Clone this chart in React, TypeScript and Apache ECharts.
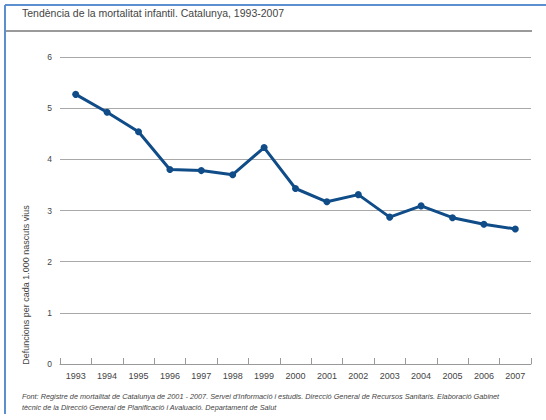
import React, { useEffect, useRef } from "react";
import * as echarts from "echarts";

const years = ["1993","1994","1995","1996","1997","1998","1999","2000","2001","2002","2003","2004","2005","2006","2007"];
const mortality = [5.27, 4.92, 4.54, 3.8, 3.78, 3.7, 4.23, 3.43, 3.17, 3.31, 2.87, 3.09, 2.86, 2.73, 2.64];
const yTicks = [0, 1, 2, 3, 4, 5, 6];
const titleText = "Tendència de la mortalitat infantil. Catalunya, 1993-2007";
const yName = "Defuncions per cada 1.000 nascuts vius";
const source1 = "Font: Registre de mortalitat de Catalunya de 2001 - 2007. Servei d'Informació i estudis. Direcció General de Recursos Sanitaris. Elaboració Gabinet";
const source2 = "tècnic de la Direcció General de Planificació i Avaluació. Departament de Salut";

export default function App() {
  const ref = useRef<HTMLDivElement>(null);
  useEffect(() => {
    const chart = echarts.init(ref.current!, null, { renderer: "svg" });
    const font = "'Liberation Sans', Arial, sans-serif";
    chart.setOption({
      animation: false,
      backgroundColor: "#ffffff",
      textStyle: { fontFamily: font },
      grid: { left: 60, right: 15, top: 57, bottom: 56, containLabel: false },
      xAxis: {
        type: "category",
        data: years,
        boundaryGap: true,
        axisLine: { show: true, lineStyle: { color: "#9a9a9a", width: 1 } },
        axisTick: { show: true, inside: true, length: 6, lineStyle: { color: "#9a9a9a" } },
        axisLabel: { color: "#444", fontSize: 9, margin: 7, fontFamily: font },
        splitLine: { show: false },
      },
      yAxis: {
        type: "value",
        min: yTicks[0],
        max: yTicks[yTicks.length - 1],
        interval: 1,
        axisLine: { show: false },
        axisTick: { show: false },
        axisLabel: { color: "#444", fontSize: 8.5, margin: 8, fontFamily: font },
        splitLine: { show: true, lineStyle: { color: "#a8a8a8", width: 1 } },
      },
      series: [
        {
          type: "line",
          data: mortality,
          symbol: "circle",
          symbolSize: 7,
          lineStyle: { color: "#0f4c88", width: 3 },
          itemStyle: { color: "#0f4c88" },
          z: 5,
        },
      ],
      graphic: [
        { type: "line", shape: { x1: 5, y1: 5, x2: 546, y2: 5 }, style: { stroke: "#5b8fd0", lineWidth: 2 } },
        { type: "line", shape: { x1: 5, y1: 5, x2: 5, y2: 414 }, style: { stroke: "#5b8fd0", lineWidth: 2 } },
        { type: "line", shape: { x1: 6, y1: 31, x2: 532, y2: 31 }, style: { stroke: "#9a9a9a", lineWidth: 2 } },
        {
          type: "text",
          x: 22,
          y: 13,
          style: { text: titleText, fontSize: 10.5, fill: "#444", fontFamily: font, verticalAlign: "middle" },
        },
        {
          type: "text",
          x: 26,
          y: 285,
          rotation: Math.PI / 2,
          style: { text: yName, fontSize: 9, fill: "#444", fontFamily: font, align: "center", verticalAlign: "middle" },
        },
        {
          type: "text",
          x: 22,
          y: 396,
          style: { text: source1, fontSize: 7.3, fontStyle: "italic", fill: "#444", fontFamily: font, verticalAlign: "middle" },
        },
        {
          type: "text",
          x: 22,
          y: 407,
          style: { text: source2, fontSize: 7.3, fontStyle: "italic", fill: "#444", fontFamily: font, verticalAlign: "middle" },
        },
      ],
    });
    return () => chart.dispose();
  }, []);
  return <div ref={ref} style={{ width: 546, height: 420, position: "absolute", left: 0, top: 0 }} />;
}
